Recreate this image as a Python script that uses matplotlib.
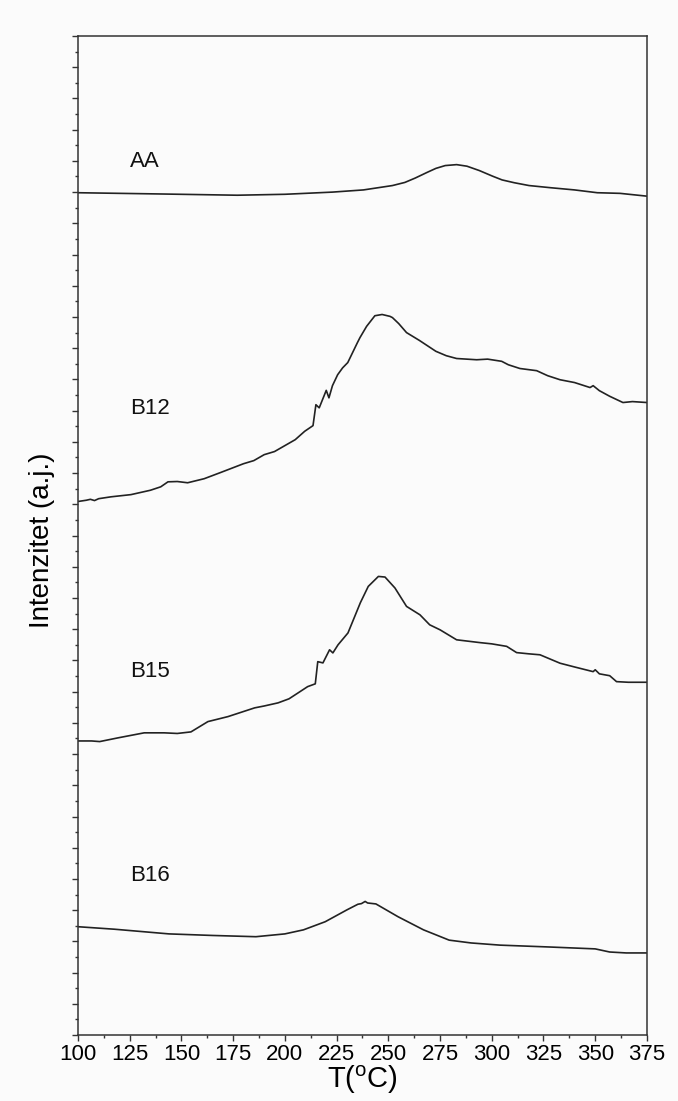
import matplotlib
matplotlib.use("Agg")
import matplotlib.pyplot as plt
from matplotlib.ticker import MultipleLocator, NullFormatter

plt.rcParams["font.family"] = ["Liberation Sans", "DejaVu Sans"]
plt.rcParams["mathtext.default"] = "regular"

# Stacked DSC traces, temperature (°C) vs intensity (a.u., offset per sample)
T_AA = [100, 140, 177, 200, 223, 238, 246, 252, 258, 263, 268.7, 273, 277.5,
        283, 288, 294, 300.4, 305, 310.9, 318, 328.5, 340, 351, 362, 375]
I_AA = [26.98, 26.94, 26.90, 26.93, 27.00, 27.07, 27.15, 27.21, 27.31, 27.45,
        27.63, 27.76, 27.85, 27.88, 27.83, 27.69, 27.51, 27.39, 27.30, 27.21,
        27.14, 27.07, 26.98, 26.96, 26.87]

T_B12 = [100, 104, 106, 108, 110, 116, 125.6, 135, 140, 143.5, 148, 153, 161,
         169, 180, 185, 190, 195, 200, 205, 209.6, 213.6, 215, 216.6, 220,
         221.3, 223, 225.5, 227.9, 230.4, 235, 236.3, 239.5, 243.5, 247, 250.8,
         252, 255, 258.8, 265, 273, 278, 283, 292.7, 298, 304.8, 308, 313.6,
         321.7, 327, 333, 340, 347.5, 349, 352, 357, 363.4, 368, 375]
I_B12 = [17.09, 17.13, 17.16, 17.12, 17.18, 17.24, 17.31, 17.45, 17.56, 17.72,
         17.73, 17.69, 17.82, 18.02, 18.30, 18.40, 18.59, 18.69, 18.88, 19.07,
         19.34, 19.52, 20.19, 20.09, 20.65, 20.41, 20.80, 21.15, 21.37, 21.54,
         22.17, 22.34, 22.70, 23.04, 23.08, 23.02, 22.98, 22.79, 22.50, 22.25,
         21.90, 21.76, 21.67, 21.63, 21.65, 21.58, 21.47, 21.35, 21.28, 21.12,
         20.99, 20.90, 20.74, 20.80, 20.64, 20.46, 20.26, 20.29, 20.26]

T_B15 = [100, 106.6, 110.5, 119.4, 132, 141.7, 148, 154.6, 162.8, 172.5, 185.4,
         190, 196.7, 202, 206.4, 211, 214.7, 215.9, 218.4, 221.6, 223.2, 225.7,
         230.5, 236.5, 240.3, 245.2, 248.4, 253.2, 258.8, 265.3, 270, 275, 283,
         294.3, 300, 307.2, 312, 318, 323.3, 333, 340, 349, 350, 352, 357,
         360.3, 366, 374.8]
I_B15 = [9.42, 9.42, 9.40, 9.52, 9.68, 9.68, 9.66, 9.71, 10.04, 10.20, 10.48,
         10.54, 10.64, 10.77, 10.96, 11.16, 11.25, 11.96, 11.92, 12.34, 12.24,
         12.50, 12.88, 13.85, 14.37, 14.69, 14.67, 14.32, 13.73, 13.46, 13.14,
         12.98, 12.66, 12.57, 12.53, 12.45, 12.25, 12.21, 12.18, 11.91, 11.79,
         11.64, 11.70, 11.57, 11.51, 11.32, 11.30, 11.30]

T_B16 = [100, 117.6, 144, 165, 186, 200, 209, 219.5, 230, 235.3, 237, 238.8,
         240, 244, 254.7, 267, 279.4, 290, 304, 328, 350, 357, 365, 375]
I_B16 = [3.47, 3.39, 3.24, 3.19, 3.15, 3.24, 3.37, 3.63, 4.01, 4.19, 4.21, 4.28,
         4.23, 4.20, 3.79, 3.37, 3.04, 2.95, 2.88, 2.82, 2.76, 2.66, 2.63, 2.63]

SAMPLES = ["AA", "B12", "B15", "B16"]
LABEL_T = 125
LABEL_I = [27.98, 20.06, 11.65, 5.10]

BG = "#fbfbfb"
INK = "#222222"

fig = plt.figure(figsize=(6.78, 11.01), dpi=100, facecolor=BG)
ax = fig.add_axes([0.1150, 0.0599, 0.8392, 0.9074], facecolor=BG)

for xs, ys in [(T_AA, I_AA), (T_B12, I_B12), (T_B15, I_B15), (T_B16, I_B16)]:
    ax.plot(xs, ys, color=INK, lw=1.2, solid_joinstyle="round")

for name, yi in zip(SAMPLES, LABEL_I):
    ax.text(LABEL_T, yi, name, fontsize=16, ha="left", va="center", color="#111111")

ax.set_xlim(100, 375)
ax.set_ylim(0, 32)
ax.xaxis.set_major_locator(MultipleLocator(25))
ax.xaxis.set_minor_locator(MultipleLocator(12.5))
ax.yaxis.set_major_locator(MultipleLocator(1))
ax.yaxis.set_minor_locator(MultipleLocator(0.5))
ax.yaxis.set_major_formatter(NullFormatter())

for side in ax.spines.values():
    side.set_color("#333333")
    side.set_linewidth(1.1)

ax.tick_params(which="both", direction="out", top=False, right=False,
               color="#333333", width=1.0)
ax.tick_params(which="major", length=4.3, labelsize=16, pad=2)
ax.tick_params(which="minor", length=2.2)

ax.set_xlabel("T($^{o}$C)", fontsize=21, labelpad=-1)
ax.set_ylabel("Intenzitet (a.j.)", fontsize=20)
ax.yaxis.set_label_coords(-0.04, 0.495)

fig.savefig("out.png", dpi=100, facecolor=BG)
